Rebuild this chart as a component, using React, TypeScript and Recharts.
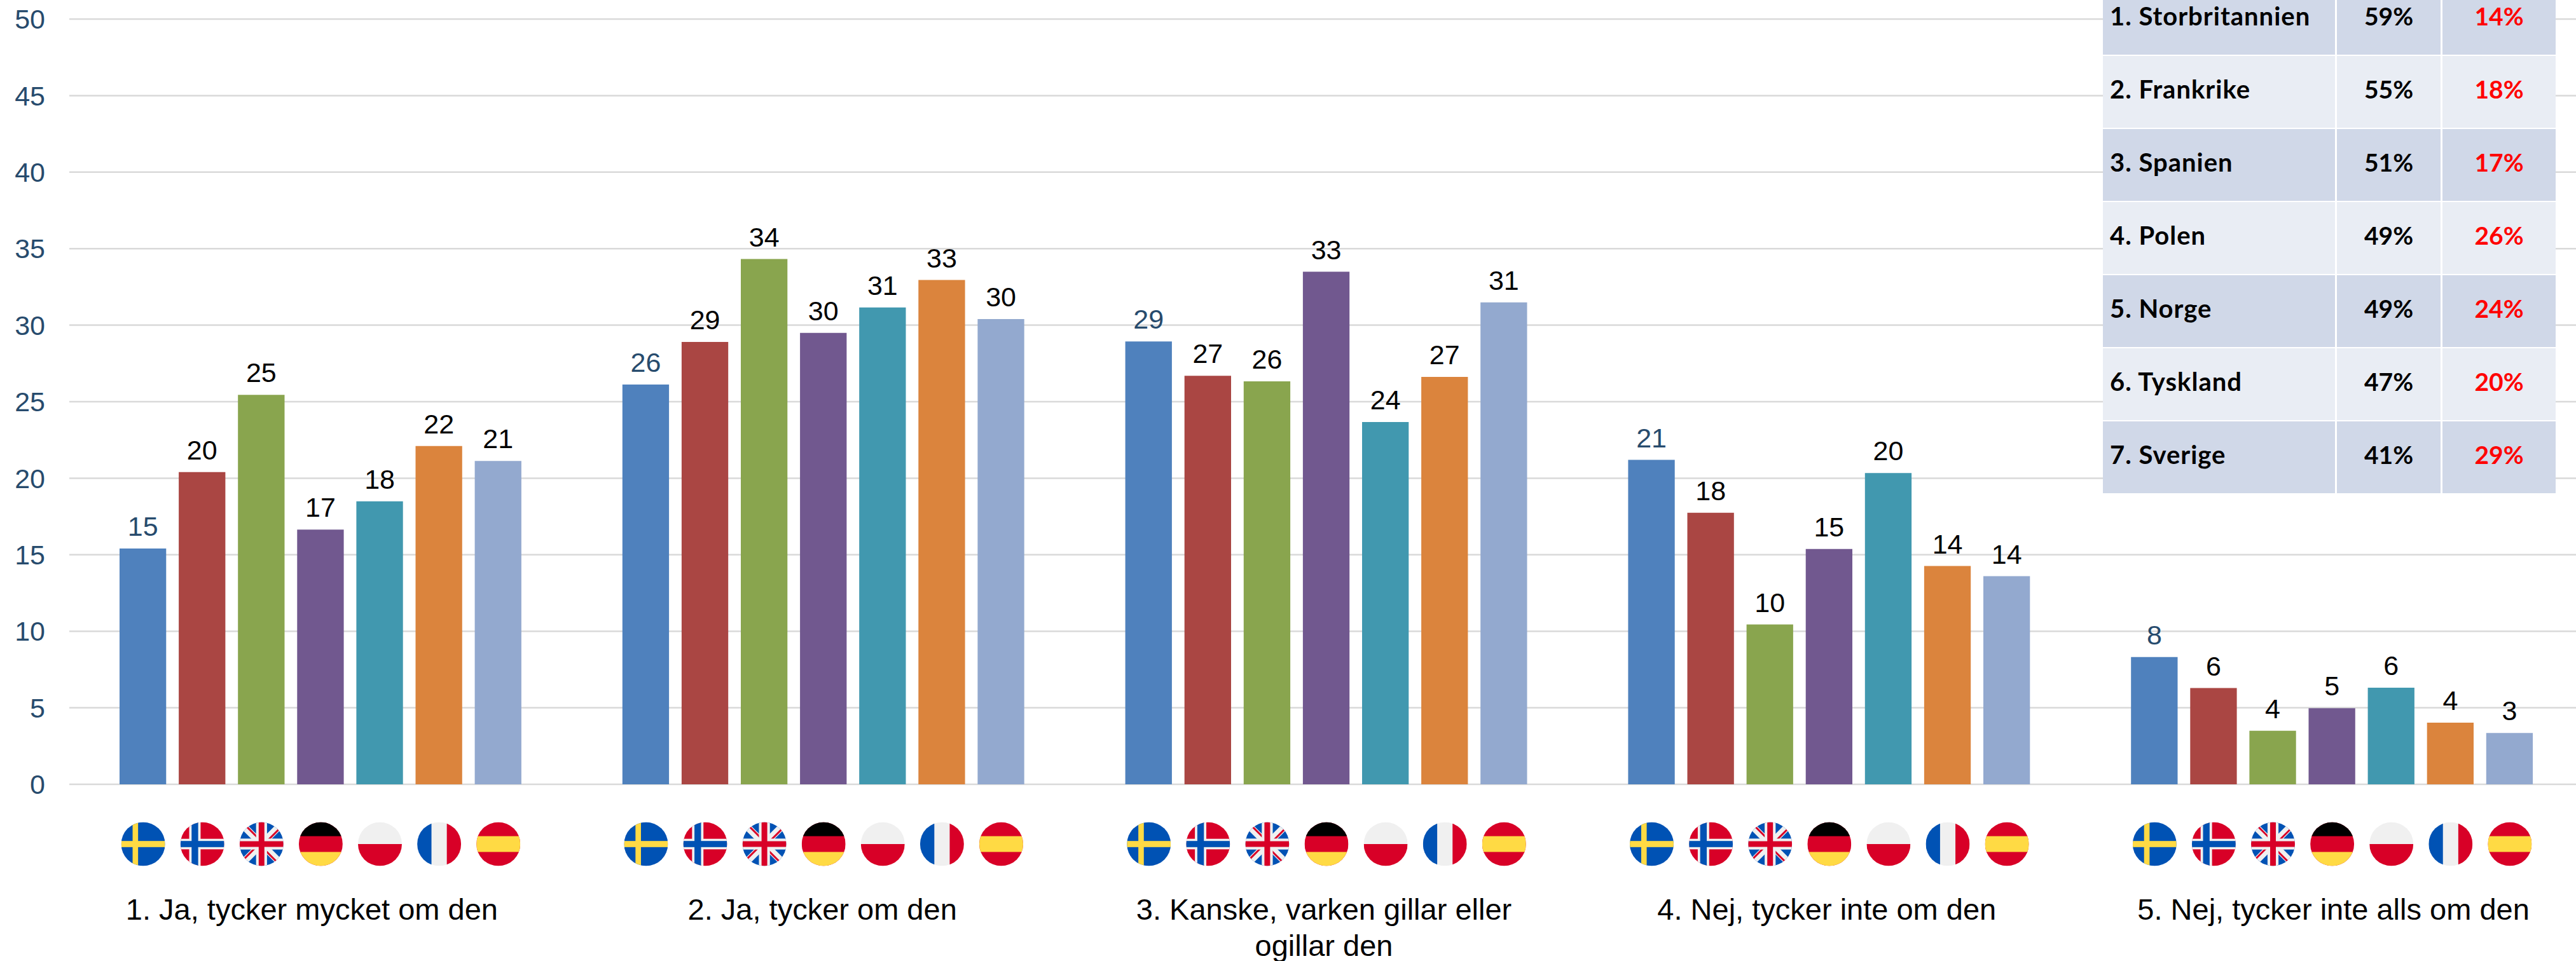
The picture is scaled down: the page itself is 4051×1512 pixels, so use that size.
import { useId } from "react";
import {
  BarChart,
  Bar,
  XAxis,
  YAxis,
  CartesianGrid,
  LabelList,
} from "recharts";

const categories = [
  "1. Ja, tycker mycket om den",
  "2. Ja, tycker om den",
  "3. Kanske, varken gillar eller ogillar den",
  "4. Nej, tycker inte om den",
  "5. Nej, tycker inte alls om den",
];

const sverige = [15.41, 26.12, 28.93, 21.2, 8.32];
const norge = [20.4, 28.9, 26.69, 17.74, 6.29];
const storbritannien = [25.45, 34.32, 26.33, 10.44, 3.5];
const tyskland = [16.64, 29.5, 33.49, 15.38, 4.97];
const polen = [18.49, 31.16, 23.67, 20.34, 6.31];
const frankrike = [22.1, 32.95, 26.62, 14.26, 4.03];
const spanien = [21.13, 30.4, 31.49, 13.6, 3.35];

const yTicks = [0, 5, 10, 15, 20, 25, 30, 35, 40, 45, 50];

const tableNames = [
  "1. Storbritannien",
  "2. Frankrike",
  "3. Spanien",
  "4. Polen",
  "5. Norge",
  "6. Tyskland",
  "7. Sverige",
];
const tablePositive = ["59%", "55%", "51%", "49%", "49%", "47%", "41%"];
const tableNegative = ["14%", "18%", "17%", "26%", "24%", "20%", "29%"];

const BLUE = "#0052b4";
const YELLOW = "#ffda44";
const RED = "#d80027";
const WHITE = "#f0f0f0";
const AXIS_BLUE = "#274b6d";
const SANS = "'Liberation Sans', Arial, sans-serif";

const series = [
  { key: "sverige", values: sverige, color: "#4f81bd", label: AXIS_BLUE },
  { key: "norge", values: norge, color: "#aa4643", label: "#000" },
  { key: "storbritannien", values: storbritannien, color: "#89a54e", label: "#000" },
  { key: "tyskland", values: tyskland, color: "#71588f", label: "#000" },
  { key: "polen", values: polen, color: "#4198af", label: "#000" },
  { key: "frankrike", values: frankrike, color: "#db843d", label: "#000" },
  { key: "spanien", values: spanien, color: "#93a9cf", label: "#000" },
];

const data = categories.map((name, i) => {
  const row: Record<string, string | number> = { name };
  series.forEach((s) => {
    row[s.key] = s.values[i];
  });
  return row;
});

const R = 34.5;

function Stripes({ flag }: { flag: string }) {
  const u = R / 100;
  const rect = (x: number, y: number, w: number, h: number, fill: string) => (
    <rect x={x * u} y={y * u} width={w * u} height={h * u} fill={fill} />
  );
  switch (flag) {
    case "sverige":
      return (
        <>
          {rect(-100, -100, 200, 200, BLUE)}
          {rect(-48, -100, 25, 200, YELLOW)}
          {rect(-100, -14, 200, 28, YELLOW)}
        </>
      );
    case "norge":
      return (
        <>
          {rect(-100, -100, 200, 200, RED)}
          {rect(-60, -100, 52, 200, WHITE)}
          {rect(-100, -24, 200, 48, WHITE)}
          {rect(-49, -100, 30, 200, BLUE)}
          {rect(-100, -14, 200, 28, BLUE)}
        </>
      );
    case "storbritannien":
      return (
        <>
          {rect(-100, -100, 200, 200, BLUE)}
          <line x1={-R} y1={-R} x2={R} y2={R} stroke={WHITE} strokeWidth={11} />
          <line x1={-R} y1={R} x2={R} y2={-R} stroke={WHITE} strokeWidth={11} />
          <line x1={-R} y1={-R} x2={-3} y2={-3} stroke={RED} strokeWidth={3} transform="translate(2,-2)" />
          <line x1={R} y1={R} x2={3} y2={3} stroke={RED} strokeWidth={3} transform="translate(-2,2)" />
          <line x1={-R} y1={R} x2={-3} y2={3} stroke={RED} strokeWidth={3} transform="translate(-2,-2)" />
          <line x1={R} y1={-R} x2={3} y2={-3} stroke={RED} strokeWidth={3} transform="translate(2,2)" />
          {rect(-25, -100, 50, 200, WHITE)}
          {rect(-100, -25, 200, 50, WHITE)}
          {rect(-13, -100, 26, 200, RED)}
          {rect(-100, -13, 200, 26, RED)}
        </>
      );
    case "tyskland":
      return (
        <>
          {rect(-100, -100, 200, 200, RED)}
          {rect(-100, -100, 200, 64, "#000")}
          {rect(-100, 36, 200, 64, YELLOW)}
        </>
      );
    case "polen":
      return (
        <>
          {rect(-100, -100, 200, 100, WHITE)}
          {rect(-100, 0, 200, 100, RED)}
        </>
      );
    case "frankrike":
      return (
        <>
          {rect(-100, -100, 200, 200, WHITE)}
          {rect(-100, -100, 65, 200, BLUE)}
          {rect(35, -100, 65, 200, RED)}
        </>
      );
    default:
      return (
        <>
          {rect(-100, -100, 200, 200, RED)}
          {rect(-100, -36, 200, 72, YELLOW)}
        </>
      );
  }
}

function Flag({ flag, x, y }: { flag: string; x: number; y: number }) {
  const id = useId();
  return (
    <g transform={`translate(${x},${y})`}>
      <clipPath id={id}>
        <circle r={R} />
      </clipPath>
      <g clipPath={`url(#${id})`}>
        <Stripes flag={flag} />
      </g>
    </g>
  );
}

function wrapLabel(text: string): string[] {
  const lines: string[] = [];
  let current = "";
  text.split(" ").forEach((word) => {
    const next = current ? current + " " + word : word;
    if (next.length > 32) {
      lines.push(current);
      current = word;
    } else {
      current = next;
    }
  });
  lines.push(current);
  return lines;
}

// the labels sit a little off the group centre in the original
const labelShift = [-14, -2, -4, -4, 2];

const CategoryTick = ({ x, y, payload, index }: any) => (
  <g>
    {series.map((s, i) => (
      <Flag key={s.key} flag={s.key} x={x + (i - 3) * 93.1} y={y + 94} />
    ))}
    <text
      x={x + labelShift[index]}
      y={y + 213}
      textAnchor="middle"
      fontSize={47}
      fontFamily={SANS}
      fill="#000"
    >
      {wrapLabel(payload.value).map((line, i) => (
        <tspan key={i} x={x + labelShift[index]} dy={i === 0 ? 0 : 57}>
          {line}
        </tspan>
      ))}
    </text>
  </g>
);

function RankTable() {
  const cell = (dark: boolean) => ({
    background: dark ? "#d0d8e8" : "#e9edf4",
    display: "flex",
    alignItems: "center",
    paddingBottom: 8,
    boxSizing: "border-box" as const,
  });
  return (
    <div
      style={{
        position: "absolute",
        left: 3307,
        top: -27,
        display: "grid",
        gridTemplateColumns: "365px 163px 178px",
        gridAutoRows: "112.5px",
        columnGap: 3,
        rowGap: 2.5,
        fontFamily: "Lato, sans-serif",
        fontWeight: 700,
        fontSize: 39,
        background: "#fff",
      }}
    >
      {tableNames.map((name, i) => (
        <div key={name} style={{ display: "contents" }}>
          <div
            style={{
              ...cell(i % 2 === 0),
              paddingLeft: 11,
              color: "#000",
              fontSize: 40,
              letterSpacing: 1,
            }}
          >
            {name}
          </div>
          <div style={{ ...cell(i % 2 === 0), justifyContent: "center", color: "#000" }}>
            {tablePositive[i]}
          </div>
          <div style={{ ...cell(i % 2 === 0), justifyContent: "center", color: "#ff0000" }}>
            {tableNegative[i]}
          </div>
        </div>
      ))}
    </div>
  );
}

export default function App() {
  return (
    <div
      style={{
        position: "absolute",
        left: 0,
        top: 0,
        width: 4051,
        height: 1512,
        overflow: "hidden",
        background: "#fff",
      }}
    >
      <BarChart
        width={4063}
        height={1512}
        data={data}
        margin={{ top: 30, right: 0, left: 0, bottom: 0 }}
        barSize={73.3}
        barGap={19.8}
      >
        <CartesianGrid vertical={false} stroke="#d9d9d9" strokeWidth={2.5} />
        <XAxis
          dataKey="name"
          height={278}
          axisLine={false}
          tickLine={false}
          tickSize={0}
          tickMargin={0}
          interval={0}
          tick={CategoryTick}
        />
        <YAxis
          width={109}
          domain={[0, 50]}
          ticks={yTicks}
          axisLine={false}
          tickLine={false}
          tickSize={0}
          tickMargin={38}
          tick={{ fontSize: 43, fill: AXIS_BLUE, fontFamily: SANS }}
        />
        {series.map((s) => (
          <Bar key={s.key} dataKey={s.key} fill={s.color} isAnimationActive={false}>
            <LabelList
              dataKey={s.key}
              position="top"
              offset={20}
              formatter={(v: number) => Math.round(v)}
              fill={s.label}
              fontSize={43}
              fontFamily={SANS}
            />
          </Bar>
        ))}
      </BarChart>
      <RankTable />
    </div>
  );
}
